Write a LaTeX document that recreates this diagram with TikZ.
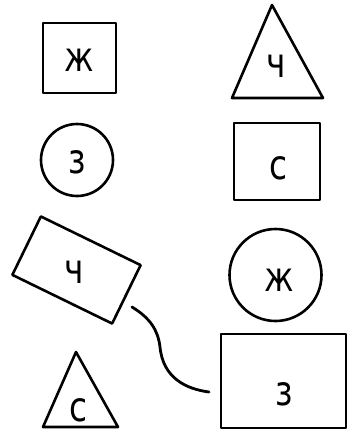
\documentclass[tikz,border=0pt]{standalone}
\usepackage{fontspec}
\setmainfont{DejaVu Sans}
\usetikzlibrary{shapes.geometric}
\tikzset{
  shapeline/.style={draw=black, line width=2.6pt, line join=round},
  letter/.style={font=\fontsize{41}{44}\selectfont, inner sep=0pt, xscale=0.8},
  boxshape/.style={shapeline, rectangle, inner sep=0pt},
  ringshape/.style={shapeline, circle, inner sep=0pt},
  wavy/.style={draw=black, line width=2.8pt, line cap=round}
}
\begin{document}
\begin{tikzpicture}[x=1pt, y=-1pt]
\useasboundingbox[fill=white] (0,0) rectangle (348,434);
% left column
\node[boxshape, minimum width=73pt, minimum height=70pt] (sqzh) at (79.5,58) {};
\node[letter] (tzh1) at (79.5,60) {ж};
\node[ringshape, minimum size=72pt] (cz) at (77,160) {};
\node[letter] (tz1) at (77,162) {з};
\node[boxshape, minimum width=111pt, minimum height=65pt, rotate=-26] (rch) at (76.5,270) {};
\node[letter] (tch1) at (74,272) {ч};
\coordinate (tri1a) at (76,352);
\coordinate (tri1b) at (43,427);
\coordinate (tri1c) at (118,427);
\draw[shapeline] (tri1a) -- (tri1b) -- (tri1c) -- cycle;
\node[letter] (tc1) at (79,410) {с};
% right column
\coordinate (tri2a) at (272,5);
\coordinate (tri2b) at (232,98);
\coordinate (tri2c) at (323,98);
\draw[shapeline] (tri2a) -- (tri2b) -- (tri2c) -- cycle;
\node[letter] (tch2) at (276,66) {ч};
\node[boxshape, minimum width=86pt, minimum height=77pt] (sqc) at (277,161.5) {};
\node[letter] (tc2) at (279,168) {с};
\node[ringshape, minimum size=92pt] (czh) at (275.5,275) {};
\node[letter] (tzh2) at (279,280) {ж};
\node[boxshape, minimum width=125pt, minimum height=94pt] (rz) at (283.5,381) {};
\node[letter] (tz2) at (284,394) {з};
% connector
\coordinate (w1) at (132,307);
\coordinate (w2) at (209,392);
\draw[wavy] (w1) .. controls (150,318) and (158,330) .. (160,347) .. controls (163,378) and (186,389) .. (w2);
\end{tikzpicture}
\end{document}
